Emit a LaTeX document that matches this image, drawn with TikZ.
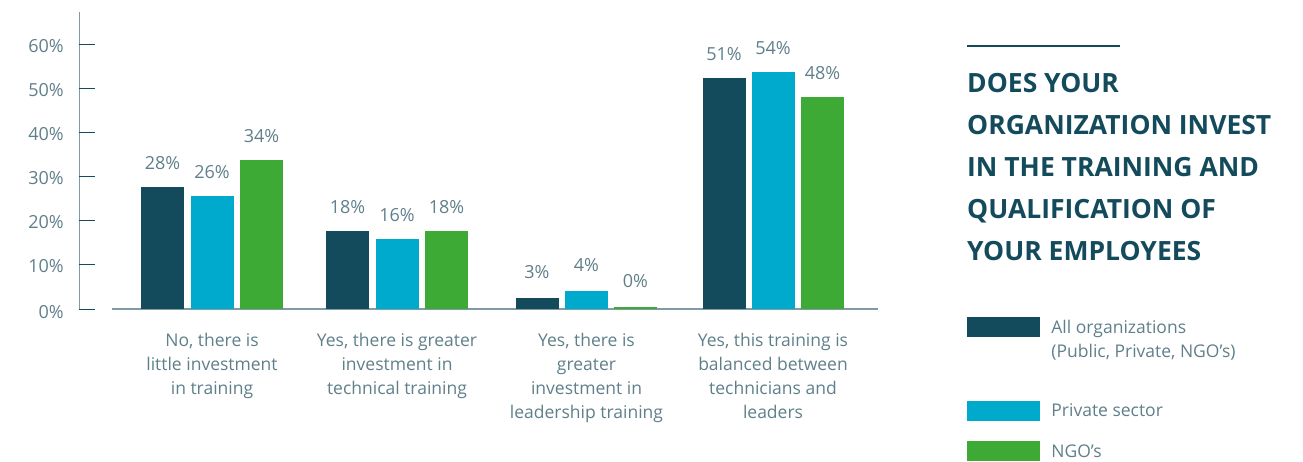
\documentclass[tikz,border=0pt]{standalone}
\usepackage{fontspec}
\setmainfont{Open Sans}
\usetikzlibrary{positioning}

\definecolor{allorg}{HTML}{134A5C}
\definecolor{private}{HTML}{00AACC}
\definecolor{ngo}{HTML}{3CAA35}
\definecolor{labelgray}{HTML}{5F7F8A}
\definecolor{axisgray}{HTML}{7F9CA6}

\begin{document}
\begin{tikzpicture}[x=1pt,y=-1pt]


        % Setup the styles for bars and texts
        \tikzset{bar style/.style={minimum width=43pt,
                                   inner sep=0pt,
                                   anchor=south},
                 value style/.style={font=\fontsize{18}{20}\selectfont,
                                     text=labelgray,
                                     inner sep=0pt},
                 cat style/.style={font=\fontsize{17.5}{24}\selectfont,
                                   text=labelgray,
                                   align=center,
                                   inner sep=0pt,
                                   anchor=north},
                 swatch style/.style={minimum width=73pt,
                                      minimum height=20pt,
                                      inner sep=0pt}}

\useasboundingbox (0,0) rectangle (1303,462);

% Add the axes
\coordinate (ytop) at (79,12);
\coordinate (yzero) at (79,309);
\coordinate (xstart) at (112,309);
\coordinate (xend) at (878,309);
\draw[axisgray, line width=1pt] (ytop) -- (yzero);
\draw[axisgray, line width=1.2pt] (xstart) -- (xend);

% Add the ticks and their labels
\coordinate (t0) at (79,309);
\coordinate (t1) at (79,265);
\coordinate (t2) at (79,221);
\coordinate (t3) at (79,177);
\coordinate (t4) at (79,133);
\coordinate (t5) at (79,89);
\coordinate (t6) at (79,45);
\draw[allorg, line width=1pt]
    (t0) -- ++(16,0) (t1) -- ++(16,0) (t2) -- ++(16,0) (t3) -- ++(16,0)
    (t4) -- ++(16,0) (t5) -- ++(16,0) (t6) -- ++(16,0);
\node[value style, anchor=east] (l0) at ([xshift=-15pt,yshift=-3pt]t0) {0\%};
\node[value style, anchor=east] (l1) at ([xshift=-15pt,yshift=-1pt]t1) {10\%};
\node[value style, anchor=east] (l2) at ([xshift=-15pt,yshift=-1pt]t2) {20\%};
\node[value style, anchor=east] (l3) at ([xshift=-15pt,yshift=-1pt]t3) {30\%};
\node[value style, anchor=east] (l4) at ([xshift=-15pt,yshift=-1pt]t4) {40\%};
\node[value style, anchor=east] (l5) at ([xshift=-15pt,yshift=-1pt]t5) {50\%};
\node[value style, anchor=east] (l6) at ([xshift=-15pt,yshift=-1pt]t6) {60\%};

% Add the bars
\node[bar style, fill=allorg, minimum height=122pt] at (162.5,309) (b11) {};
\node[bar style, fill=private, minimum height=113pt] at (212,309) (b12) {};
\node[bar style, fill=ngo, minimum height=149pt] at (261.5,309) (b13) {};

\node[bar style, fill=allorg, minimum height=78pt] at (347.5,309) (b21) {};
\node[bar style, fill=private, minimum height=70pt] at (397,309) (b22) {};
\node[bar style, fill=ngo, minimum height=78pt] at (446.5,309) (b23) {};

\node[bar style, fill=allorg, minimum height=11pt] at (537,309) (b31) {};
\node[bar style, fill=private, minimum height=18pt] at (586.5,309) (b32) {};
\node[bar style, fill=ngo, minimum height=2pt] at (635.5,309) (b33) {};

\node[bar style, fill=allorg, minimum height=231pt] at (724,309) (b41) {};
\node[bar style, fill=private, minimum height=237pt] at (773,309) (b42) {};
\node[bar style, fill=ngo, minimum height=212pt] at (822.5,309) (b43) {};

% Add the values
\node[value style] at ([yshift=24pt]b11.north) (v11) {28\%};
\node[value style] at ([yshift=24pt]b12.north) (v12) {26\%};
\node[value style] at ([yshift=24pt]b13.north) (v13) {34\%};
\node[value style] at ([yshift=24pt]b21.north) (v21) {18\%};
\node[value style] at ([yshift=24pt]b22.north) (v22) {16\%};
\node[value style] at ([yshift=24pt]b23.north) (v23) {18\%};
\node[value style] at ([yshift=26pt]b31.north) (v31) {3\%};
\node[value style] at ([yshift=26pt]b32.north) (v32) {4\%};
\node[value style] at ([yshift=26pt]b33.north) (v33) {0\%};
\node[value style] at ([yshift=24pt]b41.north) (v41) {51\%};
\node[value style] at ([yshift=24pt]b42.north) (v42) {54\%};
\node[value style] at ([yshift=24pt]b43.north) (v43) {48\%};

% Add the categories
\node[cat style] at (212,333) (c1) {No, there is\\little investment\\in training};
\node[cat style] at (397,333) (c2) {Yes, there is greater\\investment in\\technical training};
\node[cat style] at (586.5,333) (c3) {Yes, there is\\greater\\investment in\\leadership training};
\node[cat style] at (773,333) (c4) {Yes, this training is\\balanced between\\technicians and\\leaders};

% Add the title
\coordinate (rulestart) at (967,46);
\coordinate (ruleend) at (1120,46);
\draw[allorg, line width=1.5pt] (rulestart) -- (ruleend);
\node[font=\fontsize{26.5}{42}\selectfont\bfseries, text=allorg, align=left,
      inner sep=0pt, anchor=north west] at (967,73) (title)
      {DOES YOUR\\ORGANIZATION INVEST\\IN THE TRAINING AND\\QUALIFICATION OF\\YOUR EMPLOYEES};

% Add the legend
\node[swatch style, fill=allorg] at (1003.5,327) (s1) {};
\node[swatch style, fill=private] at (1003.5,410.5) (s2) {};
\node[swatch style, fill=ngo] at (1003.5,451) (s3) {};
\node[cat style, align=left, anchor=north west] at ([xshift=11pt,yshift=-3pt]s1.north east) (e1)
      {All organizations\\(Public, Private, NGO’s)};
\node[cat style, anchor=west, right=11pt of s2] (e2) {Private sector};
\node[cat style, anchor=west, right=11pt of s3] (e3) {NGO’s};
\end{tikzpicture}
\end{document}
